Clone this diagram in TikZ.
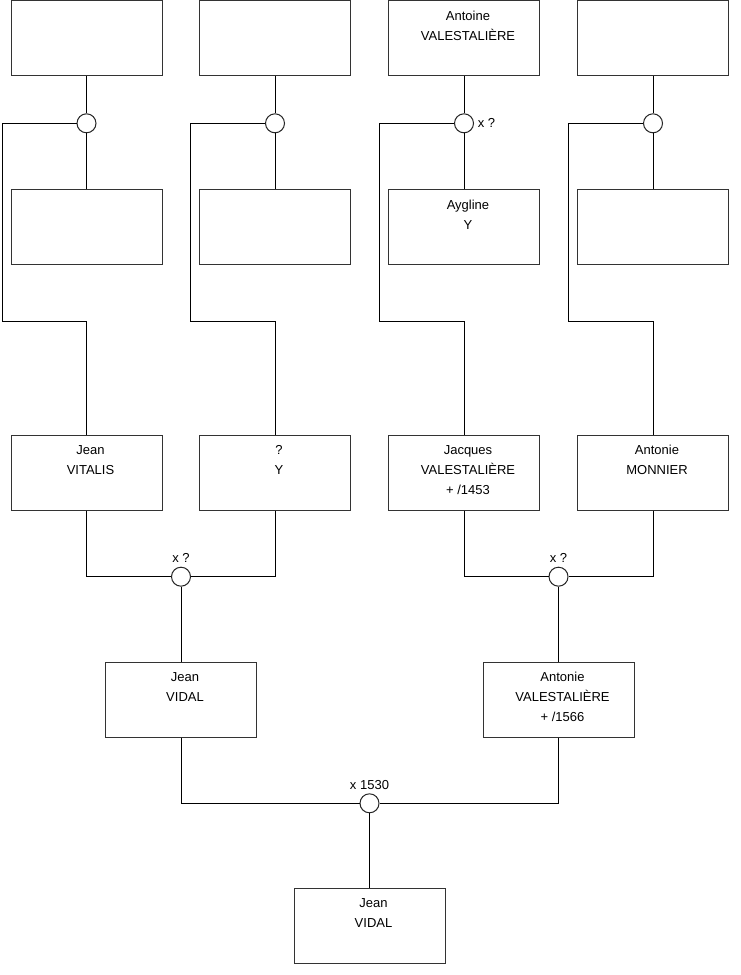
\documentclass[tikz,border=0pt]{standalone}
\usepackage{fontspec}
\setmainfont{Liberation Sans}

\tikzset{
  box/.style={draw=black!80,line width=1pt,minimum width=151pt,minimum height=75pt,inner sep=0pt},
  who/.style={anchor=north,yshift=-10.5pt,xshift=4pt,align=center,inner sep=0pt},
  wed/.style={draw=black!85,line width=1pt,circle,fill=white,minimum size=19pt,inner sep=0pt},
}

\begin{document}
\begin{tikzpicture}[x=1pt,y=-1pt,line width=1pt,font={\fontsize{13}{20}\selectfont}]
  \useasboundingbox (0,0) rectangle (740,975);
  % generation 3 : fathers
  \node[box] (f1) at (86.5,38) {};
  \node[box] (f2) at (275,38) {};
  \node[box,label={[who]north:Antoine\\VALESTALIÈRE}] (f3) at (464,38) {};
  \node[box] (f4) at (653,38) {};
  % generation 3 : mothers
  \node[box] (w1) at (86.5,227) {};
  \node[box] (w2) at (275,227) {};
  \node[box,label={[who]north:Aygline\\Y}] (w3) at (464,227) {};
  \node[box] (w4) at (653,227) {};
  % generation 2
  \node[box,label={[who]north:Jean\\VITALIS}] (m1) at (86.5,472.5) {};
  \node[box,label={[who]north:?\\Y}] (m2) at (275,472.5) {};
  \node[box,label={[who]north:Jacques\\VALESTALIÈRE\\+ /1453}] (m3) at (464,472.5) {};
  \node[box,label={[who]north:Antonie\\MONNIER}] (m4) at (653,472.5) {};
  % generation 1
  \node[box,label={[who]north:Jean\\VIDAL}] (p1) at (181,699.5) {};
  \node[box,label={[who]north:Antonie\\VALESTALIÈRE\\+ /1566}] (p2) at (558.5,699.5) {};
  % generation 0
  \node[box,label={[who]north:Jean\\VIDAL}] (ego) at (369.5,926) {};

  % unions
  \node[wed] (u1) at (86.5,123.3) {};
  \node[wed] (u2) at (275,123.3) {};
  \node[wed,label={right:x ?}] (u3) at (464,123.3) {};
  \node[wed] (u4) at (653,123.3) {};
  \node[wed,label={above:x ?}] (u5) at (181,576.7) {};
  \node[wed,label={above:x ?}] (u6) at (558.5,576.7) {};
  \node[wed,label={above:x 1530}] (u7) at (369.5,803.3) {};

  % bends of the child lines
  \coordinate (k1) at (2,321.5);
  \coordinate (k2) at (190.5,321.5);
  \coordinate (k3) at (379.5,321.5);
  \coordinate (k4) at (568.5,321.5);

  \foreach \i in {1,...,4} {
    \draw (f\i.south) -- (u\i.north);
    \draw (u\i.south) -- (w\i.north);
    \draw (u\i.west) -| (k\i) -| (m\i.north);
  }
  \draw (m1.south) |- (u5.west);
  \draw (m2.south) |- (u5.east);
  \draw (u5.south) -- (p1.north);
  \draw (m3.south) |- (u6.west);
  \draw (m4.south) |- (u6.east);
  \draw (u6.south) -- (p2.north);
  \draw (p1.south) |- (u7.west);
  \draw (p2.south) |- (u7.east);
  \draw (u7.south) -- (ego.north);
\end{tikzpicture}
\end{document}
